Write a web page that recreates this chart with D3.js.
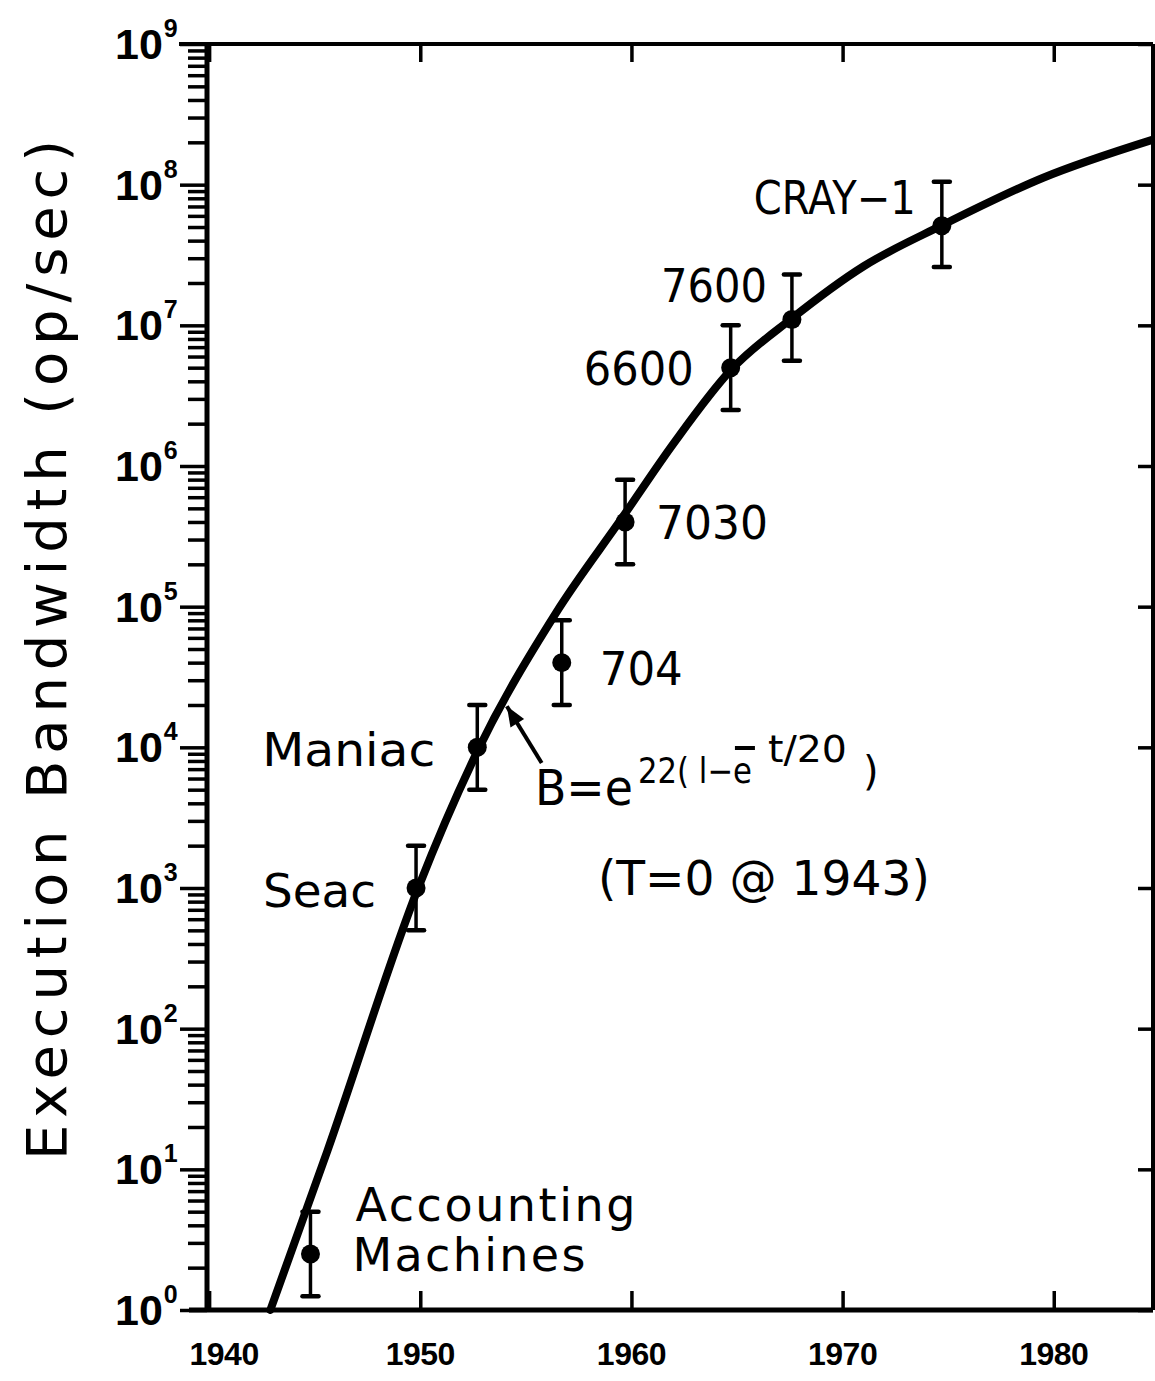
<!DOCTYPE html>
<html><head><meta charset="utf-8">
<script src="https://cdn.jsdelivr.net/npm/d3@7"></script>
<style>body{margin:0;background:#fff}</style>
</head><body><svg id="c" width="1155" height="1381"></svg>
<script>
// ---------- data ----------
const machines   = ["Accounting Machines","Seac","Maniac","704","7030","6600","7600","CRAY\u22121"];
const years      = [1944.8, 1949.8, 1952.7, 1956.7, 1959.7, 1964.7, 1967.6, 1974.7];
const bandwidth  = [2.5, 1000, 1e4, 4e4, 4e5, 5e6, 1.1e7, 5.1e7];
const bandLow    = [1.25, 500, 5e3, 2e4, 2e5, 2.5e6, 5.6e6, 2.6e7];
const bandHigh   = [5, 2000, 2e4, 8e4, 8e5, 1e7, 2.3e7, 1.05e8];
const fitYears   = [1942.9, 1945.6, 1949.9, 1952.7, 1956.4, 1959.6, 1962.0, 1964.7, 1967.6, 1971.0, 1974.7, 1979.5, 1984.7];
const fitValues  = [1, 13.5, 1000, 9330, 8.9e4, 4.37e5, 1.45e6, 4.79e6, 1.12e7, 2.63e7, 5.13e7, 1.12e8, 2.09e8];
const xTickYears = [1940,1950,1960,1970,1980];
const yExponents = [0,1,2,3,4,5,6,7,8,9];

// ---------- layout ----------
const L = 207, R = 1153, T = 44, B = 1310;
const x = d3.scaleLinear().domain([1939.9, 1984.7]).range([L, R]);
const y = d3.scaleLog().domain([1, 1e9]).range([B, T]);
const svg = d3.select("#c");
const FONT = "'DejaVu Sans', sans-serif";
const NUMFONT = "'Liberation Sans', Arial, sans-serif";

const allYTicks = [];
yExponents.forEach(e => { for (let m = 1; m <= 9; m++) { const v = m * Math.pow(10, e); if (v <= 1e9) allYTicks.push(v); } });
const isDecade = v => Math.abs(Math.log10(v) - Math.round(Math.log10(v))) < 1e-9;

// Left axis
const gL = svg.append("g").attr("transform", `translate(${L},0)`)
  .call(d3.axisLeft(y).tickValues(allYTicks).tickSize(19).tickFormat(""));
gL.select(".domain").attr("stroke-width", 5).attr("d", `M0,${T}V${B}`);
gL.selectAll(".tick line").attr("stroke-width", 3.5).attr("x2", d => isDecade(d) ? -27 : -19);

// Right axis
const gR = svg.append("g").attr("transform", `translate(${R},0)`)
  .call(d3.axisLeft(y).tickValues(yExponents.map(e => Math.pow(10, e))).tickSize(0).tickFormat(""));
gR.select(".domain").attr("stroke-width", 4).attr("d", `M0,${T}V${B}`);
gR.selectAll(".tick line").attr("x2", -15).attr("stroke-width", 3.5);

// Bottom axis
const gB = svg.append("g").attr("transform", `translate(0,${B})`)
  .call(d3.axisBottom(x).tickValues(xTickYears).tickSize(0).tickFormat(""));
gB.select(".domain").attr("stroke-width", 5).attr("d", `M${L - 18},0H${R}`);
gB.selectAll(".tick line").attr("y2", -19).attr("stroke-width", 3.5);

// Top axis
const gT = svg.append("g").attr("transform", `translate(0,${T})`)
  .call(d3.axisTop(x).tickValues(xTickYears).tickSize(0).tickFormat(""));
gT.select(".domain").attr("stroke-width", 4).attr("d", `M${L - 28},0H${R}`);
gT.selectAll(".tick line").attr("y2", 18).attr("stroke-width", 3.5);

// x tick labels
svg.append("g").selectAll("text").data(xTickYears).join("text")
  .attr("x", (d, i) => x(d) + (i === 0 ? 15 : 0))
  .attr("y", 1365)
  .attr("text-anchor", "middle")
  .attr("font-family", NUMFONT).attr("font-weight", "bold").attr("font-size", 32)
  .attr("letter-spacing", -0.5)
  .text(d => d);

// y tick labels 10^n (single text with superscript tspan)
const yt = svg.append("g").selectAll("text").data(yExponents).join("text")
  .attr("x", 115).attr("y", d => y(Math.pow(10, d)) + 15)
  .attr("font-family", NUMFONT).attr("font-weight", "bold").attr("font-size", 43);
yt.append("tspan").text("10");
yt.append("tspan").attr("dx", 1).attr("dy", -22).attr("font-size", 25).text(d => d);

// y axis title
svg.append("text")
  .attr("transform", `translate(66,650) rotate(-90)`)
  .attr("text-anchor", "middle")
  .attr("font-family", FONT).attr("font-size", 56)
  .attr("textLength", 1020).attr("lengthAdjust", "spacing")
  .text("Execution Bandwidth (op/sec)");

// fit curve
const line = d3.line().x((d, i) => x(fitYears[i])).y(d => y(d)).curve(d3.curveMonotoneX);
svg.append("path").datum(fitValues).attr("d", line)
  .attr("fill", "none").attr("stroke", "#000").attr("stroke-width", 8).attr("stroke-linecap", "round");

// error bars + points
const idx = machines.map((m, i) => i);
const pts = svg.append("g").selectAll("g").data(idx).join("g");
pts.append("line").attr("x1", i => x(years[i])).attr("x2", i => x(years[i]))
  .attr("y1", i => y(bandLow[i])).attr("y2", i => y(bandHigh[i]))
  .attr("stroke", "#000").attr("stroke-width", 3.5);
[bandLow, bandHigh].forEach(arr => {
  pts.append("line").attr("x1", i => x(years[i]) - 8).attr("x2", i => x(years[i]) + 8)
    .attr("y1", i => y(arr[i])).attr("y2", i => y(arr[i]))
    .attr("stroke", "#000").attr("stroke-width", 4.5).attr("stroke-linecap", "round");
});
pts.append("circle").attr("cx", i => x(years[i])).attr("cy", i => y(bandwidth[i])).attr("r", 9.5).attr("fill", "#000");

// point labels: [dx, dy, anchor, width]
const labelLayout = [
  null,
  [-40, 19, "end", 113], [-42, 19, "end", 173], [38, 22, "start", 83], [31, 17, "start", 112],
  [-37, 17, "end", 110], [-25, -18, "end", 106], [-26, -12, "end", 162]
];
const lab = svg.append("g").attr("font-family", FONT).attr("font-size", 46);
machines.forEach((m, i) => {
  const px = x(years[i]), py = y(bandwidth[i]);
  if (i === 0) {
    const parts = m.split(" ");
    lab.append("text").attr("x", px + 45).attr("y", py - 33).attr("textLength", 280).attr("lengthAdjust", "spacing").text(parts[0]);
    lab.append("text").attr("x", px + 42).attr("y", py + 17).attr("textLength", 233).attr("lengthAdjust", "spacing").text(parts[1]);
  } else {
    const [dx, dy, a, w] = labelLayout[i];
    lab.append("text").attr("x", px + dx).attr("y", py + dy).attr("text-anchor", a)
      .attr("textLength", w).attr("lengthAdjust", "spacingAndGlyphs").text(m);
  }
});

// formula annotation
const ax = x(1955.43), ay = y(Math.pow(10, 3.59));
const ann = svg.append("g").attr("font-family", FONT);
ann.append("text").attr("x", ax).attr("y", ay).attr("font-size", 50).attr("textLength", 98).attr("lengthAdjust", "spacingAndGlyphs").text("B=e");
ann.append("text").attr("x", ax + 103).attr("y", ay - 22).attr("font-size", 35).attr("textLength", 114).attr("lengthAdjust", "spacingAndGlyphs").text("22( l\u2212e");
ann.append("line").attr("x1", ax + 200).attr("x2", ax + 220).attr("y1", ay - 57).attr("y2", ay - 57).attr("stroke", "#000").attr("stroke-width", 4);
ann.append("text").attr("x", ax + 233).attr("y", ay - 43).attr("font-size", 37).attr("textLength", 79).attr("lengthAdjust", "spacingAndGlyphs").text("t/20");
ann.append("text").attr("x", ax + 328).attr("y", ay - 20).attr("font-size", 40).text(")");
ann.append("text").attr("x", ax + 63).attr("y", ay + 90).attr("font-size", 48)
  .attr("textLength", 332).attr("lengthAdjust", "spacingAndGlyphs").text("(T=0 @ 1943)");

// arrow
const tip = [x(1954.1), y(1.96e4)], tail = [x(1955.75), y(7.74e3)];
svg.append("line").attr("x1", tail[0]).attr("y1", tail[1]).attr("x2", tip[0]).attr("y2", tip[1])
  .attr("stroke", "#000").attr("stroke-width", 4);
const ang = Math.atan2(tip[1] - tail[1], tip[0] - tail[0]);
const hl = 20, hw = 8;
const bx = tip[0] - hl * Math.cos(ang), by = tip[1] - hl * Math.sin(ang);
svg.append("path").attr("d", `M${tip[0]},${tip[1]}L${bx + hw * Math.sin(ang)},${by - hw * Math.cos(ang)}L${bx - hw * Math.sin(ang)},${by + hw * Math.cos(ang)}Z`).attr("fill", "#000");
</script>
</body></html>
